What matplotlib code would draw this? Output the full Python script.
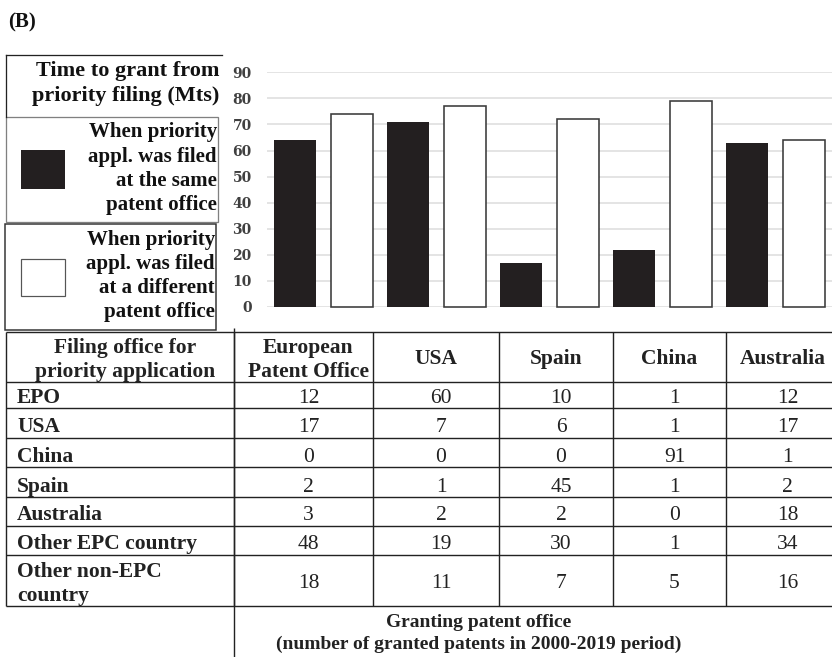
import matplotlib
matplotlib.use("Agg")
import matplotlib.pyplot as plt
from matplotlib.patches import Rectangle

# ---------------- data ----------------
granting_offices = ["European\nPatent Office", "USA", "Spain", "China", "Australia"]
same_office_months = [64, 71, 17, 22, 63]
diff_office_months = [74, 77, 72, 79, 64]
y_ticks = [0, 10, 20, 30, 40, 50, 60, 70, 80, 90]

filing_offices = ["EPO", "USA", "China", "Spain", "Australia",
                  "Other EPC country", "Other non-EPC\ncountry"]
granted_epo = [12, 17, 0, 2, 3, 48, 18]
granted_usa = [60, 7, 0, 1, 2, 19, 11]
granted_spain = [10, 6, 0, 45, 2, 30, 7]
granted_china = [1, 1, 91, 1, 0, 1, 5]
granted_australia = [12, 17, 1, 2, 18, 34, 16]
table_columns = [granted_epo, granted_usa, granted_spain, granted_china, granted_australia]

legend_title = ["Time to grant from", "priority filing (Mts)"]
legend_same = ["When priority", "appl. was filed", "at the same", "patent office"]
legend_diff = ["When priority", "appl. was filed", "at a different", "patent office"]
row_header = ["Filing office for", "priority application"]
footer = ["Granting patent office", "(number of granted patents in 2000-2019 period)"]

# ---------------- style ----------------
W, H = 832, 657
SERIF = ["Liberation Serif", "DejaVu Serif"]
BLACK = "#231f20"
LINE = "#222222"
PX = 0.72  # points per pixel

fig = plt.figure(figsize=(W / 100, H / 100), dpi=100)
fig.patch.set_facecolor("white")

# overlay axes in pixel coordinates (for legend boxes / table layout)
ov = fig.add_axes([0, 0, 1, 1])
ov.set_xlim(0, W)
ov.set_ylim(H, 0)
ov.axis("off")

# ---------------- bar chart ----------------
x0, x1 = 267, 832
y_top, y_bot = 72.3, 307
ax = fig.add_axes([x0 / W, 1 - y_bot / H, (x1 - x0) / W, (y_bot - y_top) / H])
ax.set_xlim(-0.5, len(granting_offices) - 0.5)
ax.set_ylim(0, 90)
xs = list(range(len(granting_offices)))
bw = 0.37
off = 0.252
ax.bar([x - off for x in xs], same_office_months, width=bw, color=BLACK,
       edgecolor=BLACK, linewidth=0, zorder=3, clip_on=False)
ax.bar([x + off for x in xs], diff_office_months, width=bw, color="white",
       edgecolor="#3a3a3a", linewidth=1.6 * PX, zorder=3, clip_on=False)
ax.set_yticks(y_ticks)
ax.set_yticklabels([str(t) for t in y_ticks], fontfamily="DejaVu Serif", fontweight="bold",
                   fontsize=10, color="#404040")
ax.tick_params(axis="y", length=0, pad=11)
ax.set_xticks([])
ax.grid(axis="y", color="#dcdcdc", linewidth=1.5 * PX, zorder=0)
for s in ax.spines.values():
    s.set_visible(False)
ax.set_facecolor("none")

# ---------------- panel label ----------------
ov.text(8, 27, "(B)", fontfamily=SERIF, fontweight="bold", fontsize=15,
        ha="left", va="baseline", color="#111111")

# ---------------- legend boxes ----------------
fs_title = 16
fs_leg = 15
ov.plot([6, 222], [55, 55], color=LINE, lw=1.3 * PX)
ov.plot([6, 6], [55, 117], color=LINE, lw=1.3 * PX)
for txt, yb in zip(legend_title, [76, 101]):
    ov.text(219, yb, txt, fontfamily=SERIF, fontweight="bold", fontsize=fs_title,
            ha="right", va="baseline", color="#111111")

ov.add_patch(Rectangle((6, 117), 212, 105, fill=False, edgecolor="#808080", lw=1.3 * PX))
ov.add_patch(Rectangle((21, 150), 44, 39, facecolor=BLACK, edgecolor=BLACK, lw=0))
for txt, yb in zip(legend_same, [137, 162, 186, 210]):
    ov.text(217, yb, txt, fontfamily=SERIF, fontweight="bold", fontsize=fs_leg,
            ha="right", va="baseline", color="#111111")

ov.add_patch(Rectangle((5, 224), 211, 106, fill=False, edgecolor="#333333", lw=1.5 * PX))
ov.add_patch(Rectangle((21, 259), 44, 37, facecolor="white", edgecolor="#555555", lw=1.2 * PX))
for txt, yb in zip(legend_diff, [245, 269, 293, 317]):
    ov.text(215, yb, txt, fontfamily=SERIF, fontweight="bold", fontsize=fs_leg,
            ha="right", va="baseline", color="#111111")

# ---------------- table ----------------
col_edges = [6, 234, 373, 499, 613, 726, 839]
row_edges = [332, 382, 408, 438, 467, 497, 526, 555, 606]
tlw = 1.4 * PX
for yv in row_edges:
    ov.plot([6, W], [yv, yv], color=LINE, lw=tlw, solid_capstyle="butt")
for xv in col_edges[:-1]:
    ov.plot([xv, xv], [332, 606], color=LINE, lw=tlw, solid_capstyle="butt")
ov.plot([234, 234], [328, H], color=LINE, lw=tlw, solid_capstyle="butt")

fs_tab = 15.5
fs_foot = 14
# header
for txt, yb in zip(row_header, [353, 377]):
    ov.text(125, yb, txt, fontfamily=SERIF, fontweight="bold", fontsize=fs_tab,
            ha="center", va="baseline", color="#222222")
for j, name in enumerate(granting_offices):
    cx = (col_edges[j + 1] + col_edges[j + 2]) / 2
    lines = name.split("\n")
    ybs = [353, 377] if len(lines) == 2 else [364]
    if j == 0:
        cx = 308
    for ln, yb in zip(lines, ybs):
        ov.text(cx, yb, ln, fontfamily=SERIF, fontweight="bold", fontsize=fs_tab,
                ha="center", va="baseline", color="#222222")

row_baselines = [403, 432, 462, 492, 520, 549, 588]
for i, lab in enumerate(filing_offices):
    lines = lab.split("\n")
    if len(lines) == 2:
        for ln, yb in zip(lines, [577, 601]):
            ov.text(17, yb, ln, fontfamily=SERIF, fontweight="bold", fontsize=fs_tab,
                    ha="left", va="baseline", color="#222222")
    else:
        ov.text(17, row_baselines[i], lab, fontfamily=SERIF, fontweight="bold",
                fontsize=fs_tab, ha="left", va="baseline", color="#222222")
    for j, col in enumerate(table_columns):
        cx = (col_edges[j + 1] + col_edges[j + 2]) / 2 + 5
        ov.text(cx, row_baselines[i], str(col[i]), fontfamily=SERIF, fontsize=fs_tab,
                ha="center", va="baseline", color="#222222")

for txt, yb in zip(footer, [627, 649]):
    ov.text(479, yb, txt, fontfamily=SERIF, fontweight="bold", fontsize=fs_foot,
            ha="center", va="baseline", color="#222222")

fig.savefig("out.png", dpi=100, facecolor="white")
